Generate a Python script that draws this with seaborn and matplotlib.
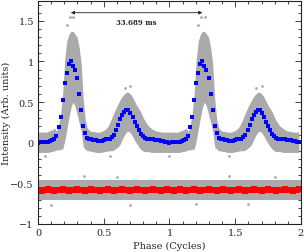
import numpy as np
import pandas as pd
import matplotlib
matplotlib.use('Agg')
import matplotlib.pyplot as plt
from matplotlib.ticker import MultipleLocator, FuncFormatter
import seaborn as sns

# one cycle of the folded profile, 64 phase bins (plotted twice)
n_bins = 64
profile = [0.00, 0.01, 0.01, 0.01, 0.01, 0.01, 0.02, 0.03, 0.05, 0.08,
           0.19, 0.32, 0.52, 0.73, 0.86, 0.97, 1.00, 0.94, 0.89, 0.80,
           0.60, 0.40, 0.20, 0.12, 0.06, 0.05, 0.04, 0.03, 0.03, 0.02,
           0.02, 0.02, 0.03, 0.04, 0.04, 0.05, 0.07, 0.10, 0.15, 0.22,
           0.29, 0.34, 0.38, 0.40, 0.40, 0.37, 0.32, 0.26, 0.20, 0.15,
           0.11, 0.08, 0.06, 0.05, 0.05, 0.04, 0.04, 0.03, 0.03, 0.03,
           0.02, 0.02, 0.01, 0.01]

# envelope of the grey single-pulse cloud around the profile
cloud_upper = [0.13, 0.13, 0.13, 0.13, 0.13, 0.14, 0.15, 0.16, 0.18, 0.14,
               0.20, 0.35, 0.60, 1.02, 1.25, 1.33, 1.37, 1.37, 1.34, 1.30,
               1.18, 0.98, 0.55, 0.28, 0.18, 0.15, 0.14, 0.14, 0.13, 0.13,
               0.13, 0.14, 0.15, 0.17, 0.20, 0.25, 0.31, 0.37, 0.43, 0.48,
               0.53, 0.57, 0.60, 0.62, 0.62, 0.60, 0.56, 0.51, 0.46, 0.42,
               0.38, 0.32, 0.27, 0.23, 0.20, 0.18, 0.16, 0.15, 0.14, 0.14,
               0.13, 0.13, 0.13, 0.13]
cloud_lower = [-0.12, -0.12, -0.12, -0.12, -0.12, -0.12, -0.11, -0.11, -0.10, -0.09,
               -0.09, -0.08, -0.08, 0.02, 0.16, 0.30, 0.43, 0.50, 0.45, 0.35,
               0.25, 0.15, -0.05, -0.08, -0.10, -0.10, -0.11, -0.11, -0.12, -0.12,
               -0.12, -0.12, -0.11, -0.11, -0.10, -0.10, -0.10, -0.09, -0.07, -0.05,
               -0.02, 0.04, 0.09, 0.13, 0.14, 0.12, 0.08, 0.03, -0.01, -0.05,
               -0.08, -0.10, -0.11, -0.11, -0.11, -0.12, -0.12, -0.12, -0.12, -0.12,
               -0.12, -0.12, -0.12, -0.12]

# off-pulse (red) series, offset below
offpulse = [-0.58, -0.58, -0.59, -0.58, -0.58, -0.57, -0.58, -0.58, -0.59, -0.58,
            -0.58, -0.58, -0.57, -0.58, -0.58, -0.59, -0.58, -0.58, -0.58, -0.57,
            -0.58, -0.58, -0.58, -0.59, -0.58, -0.58, -0.57, -0.58, -0.58, -0.58,
            -0.59, -0.58, -0.58, -0.58, -0.57, -0.58, -0.58, -0.59, -0.58, -0.58,
            -0.58, -0.57, -0.58, -0.58, -0.58, -0.59, -0.58, -0.58, -0.57, -0.58,
            -0.58, -0.58, -0.59, -0.58, -0.58, -0.58, -0.57, -0.58, -0.58, -0.58,
            -0.59, -0.58, -0.58, -0.57]
off_upper = -0.46
off_lower = -0.71

# a few stray grey points outside the dense cloud
stray_x = [0.22, 0.24, 0.27, 1.22, 1.24, 1.27, 0.70, 0.66, 1.70, 1.66,
           0.05, 0.55, 1.00, 1.45, 0.35, 0.60, 1.45, 1.80, 0.10, 0.70, 1.20, 1.60]
stray_y = [1.45, 1.55, 1.55, 1.45, 1.55, 1.55, 0.70, 0.67, 0.70, 0.67,
           -0.17, -0.16, -0.17, -0.16, -0.41, -0.42, -0.41, -0.42, -0.77, -0.77, -0.76, -0.76]

period_label = '33.689 ms'

phase = np.arange(2 * n_bins) / n_bins
df = pd.DataFrame({
    'phase': phase,
    'profile': profile * 2,
    'upper': cloud_upper * 2,
    'lower': cloud_lower * 2,
    'offpulse': offpulse * 2,
})

sns.set_style('ticks')
plt.rcParams['font.family'] = ['DejaVu Serif']

fig = plt.figure(figsize=(3.04, 2.53), dpi=100)
ax = fig.add_axes([0.125, 0.111, 0.865, 0.883])

grey = '#aaaaaa'
ax.fill_between(df['phase'], df['lower'], df['upper'], color=grey, lw=0)
ax.fill_between([0, 2], [off_lower, off_lower], [off_upper, off_upper], color=grey, lw=0)
sns.scatterplot(x=stray_x, y=stray_y, color=grey, s=4, linewidth=0, ax=ax)

sns.scatterplot(data=df, x='phase', y='offpulse', color='#ff0000', marker='s',
                s=13, linewidth=0, ax=ax)
sns.scatterplot(data=df, x='phase', y='profile', color='#0000ff', marker='s',
                s=10, linewidth=0, ax=ax)

ax.annotate('', xy=(0.25, 1.60), xytext=(1.25, 1.60),
            arrowprops=dict(arrowstyle='<|-|>', color='#222222', lw=0.6,
                            mutation_scale=5, shrinkA=0, shrinkB=0))
ax.text(0.75, 1.49, period_label, ha='center', va='center', fontsize=5,
        fontweight='bold')

ax.set_xlim(0, 2)
ax.set_ylim(-1, 1.75)
ax.xaxis.set_major_locator(MultipleLocator(0.5))
ax.xaxis.set_minor_locator(MultipleLocator(0.1))
ax.yaxis.set_major_locator(MultipleLocator(0.5))
ax.yaxis.set_minor_locator(MultipleLocator(0.1))
fmt = FuncFormatter(lambda v, p: ('%g' % v).replace('-', '\u2212'))
ax.xaxis.set_major_formatter(fmt)
ax.yaxis.set_major_formatter(fmt)
ax.tick_params(which='both', direction='in', top=True, right=True,
               labelsize=7, width=0.6, pad=3)
ax.tick_params(which='major', length=4)
ax.tick_params(which='minor', length=2)
for s in ax.spines.values():
    s.set_linewidth(0.8)
    s.set_color('#222222')

ax.set_xlabel('Phase (Cycles)', fontsize=7, labelpad=3)
ax.set_ylabel('Intensity (Arb. units)', fontsize=7)
ax.yaxis.set_label_coords(-0.102, 0.5)

fig.savefig('out.png', dpi=100)
